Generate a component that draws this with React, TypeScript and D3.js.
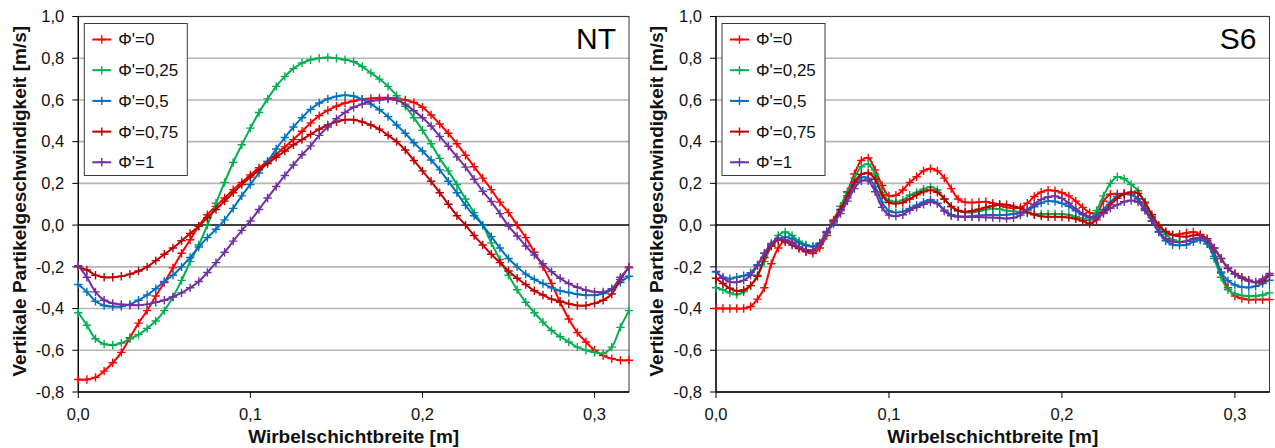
import React from 'react';
import * as d3 from 'd3';

// ---------- data ----------
const legendLabels = ["Φ'=0", "Φ'=0,25", "Φ'=0,5", "Φ'=0,75", "Φ'=1"];
const seriesColors = ['#FF0000', '#00B050', '#0070C0', '#C00000', '#7030A0'];
const yTicks = [-0.8, -0.6, -0.4, -0.2, 0, 0.2, 0.4, 0.6, 0.8, 1.0];
const xTicks = [0, 0.1, 0.2, 0.3];
const xTitle = 'Wirbelschichtbreite [m]';
const yTitle = 'Vertikale Partikelgeschwindigkeit [m/s]';

// NT panel, x step 0.005 m (0 ... 0.32)
const ntStep = 0.005;
const ntPhi0 = [
  -0.74, -0.74, -0.73, -0.70, -0.66, -0.61, -0.54, -0.47, -0.41, -0.34,
  -0.275, -0.205, -0.135, -0.07, -0.005, 0.05, 0.09, 0.13, 0.17, 0.205,
  0.24, 0.275, 0.305, 0.34, 0.375, 0.41, 0.45, 0.49, 0.525, 0.55,
  0.57, 0.585, 0.595, 0.603, 0.607, 0.61, 0.61, 0.608, 0.60, 0.588,
  0.565, 0.528, 0.485, 0.44, 0.39, 0.335, 0.28, 0.225, 0.17, 0.11,
  0.06, 0.0, -0.06, -0.13, -0.2, -0.28, -0.37, -0.45, -0.515, -0.56,
  -0.60, -0.625, -0.64, -0.648, -0.648,
];
const ntPhi025 = [
  -0.42, -0.48, -0.545, -0.57, -0.575, -0.565, -0.545, -0.525, -0.495, -0.46,
  -0.41, -0.345, -0.265, -0.175, -0.095, 0.0, 0.105, 0.205, 0.30, 0.385,
  0.465, 0.54, 0.605, 0.665, 0.713, 0.75, 0.777, 0.793, 0.80, 0.804,
  0.80, 0.793, 0.783, 0.76, 0.73, 0.70, 0.665, 0.62, 0.57, 0.515,
  0.455, 0.39, 0.32, 0.26, 0.195, 0.125, 0.06, 0.0, -0.085, -0.165,
  -0.24, -0.31, -0.37, -0.42, -0.465, -0.505, -0.535, -0.56, -0.585, -0.60,
  -0.61, -0.615, -0.585, -0.49, -0.41,
];
const ntPhi05 = [
  -0.285, -0.32, -0.365, -0.385, -0.39, -0.39, -0.38, -0.36, -0.335, -0.305,
  -0.27, -0.24, -0.20, -0.155, -0.105, -0.06, -0.02, 0.025, 0.08, 0.14,
  0.195, 0.25, 0.305, 0.365, 0.42, 0.47, 0.515, 0.555, 0.585, 0.605,
  0.617, 0.622, 0.618, 0.603, 0.58, 0.553, 0.52, 0.48, 0.44, 0.395,
  0.355, 0.312, 0.265, 0.21, 0.155, 0.095, 0.045, 0.0, -0.055, -0.11,
  -0.16, -0.20, -0.235, -0.26, -0.28, -0.30, -0.315, -0.323, -0.331, -0.336,
  -0.336, -0.328, -0.31, -0.275, -0.245,
];
const ntPhi075 = [
  -0.20, -0.215, -0.24, -0.25, -0.25, -0.245, -0.235, -0.22, -0.20, -0.17,
  -0.14, -0.11, -0.075, -0.04, -0.005, 0.035, 0.075, 0.115, 0.155, 0.195,
  0.23, 0.265, 0.295, 0.325, 0.355, 0.385, 0.41, 0.435, 0.46, 0.48,
  0.495, 0.505, 0.505, 0.495, 0.48, 0.46, 0.43, 0.40, 0.36, 0.31,
  0.26, 0.21, 0.155, 0.10, 0.045, 0.0, -0.05, -0.095, -0.14, -0.18,
  -0.22, -0.255, -0.285, -0.315, -0.335, -0.355, -0.365, -0.377, -0.385, -0.385,
  -0.375, -0.36, -0.33, -0.26, -0.20,
];
const ntPhi1 = [
  -0.195, -0.25, -0.32, -0.36, -0.375, -0.38, -0.384, -0.384, -0.38, -0.37,
  -0.36, -0.344, -0.325, -0.30, -0.27, -0.227, -0.18, -0.13, -0.077, -0.025,
  0.02, 0.075, 0.13, 0.185, 0.238, 0.288, 0.337, 0.38, 0.43, 0.47,
  0.51, 0.54, 0.565, 0.58, 0.595, 0.60, 0.604, 0.598, 0.58, 0.548,
  0.515, 0.475, 0.425, 0.378, 0.327, 0.278, 0.22, 0.162, 0.113, 0.055,
  -0.005, -0.052, -0.10, -0.143, -0.185, -0.223, -0.255, -0.28, -0.298, -0.312,
  -0.32, -0.32, -0.305, -0.25, -0.205,
];

// S6 panel, x step 0.004 m (0 ... 0.32)
const s6Step = 0.004;
const s6Phi0 = [
  -0.40, -0.40, -0.40, -0.40, -0.40, -0.39, -0.355, -0.30, -0.185, -0.11,
  -0.073, -0.082, -0.105, -0.128, -0.135, -0.11, -0.05, 0.025, 0.09, 0.16,
  0.245, 0.31, 0.322, 0.265, 0.19, 0.14, 0.143, 0.168, 0.205, 0.232,
  0.26, 0.271, 0.26, 0.225, 0.175, 0.125, 0.11, 0.108, 0.11, 0.112,
  0.105, 0.095, 0.085, 0.08, 0.085, 0.105, 0.137, 0.158, 0.167, 0.165,
  0.155, 0.14, 0.115, 0.085, 0.06, 0.055, 0.115, 0.148, 0.15, 0.15,
  0.148, 0.127, 0.08, 0.035, -0.01, -0.035, -0.047, -0.043, -0.038, -0.033,
  -0.045, -0.075, -0.13, -0.23, -0.30, -0.34, -0.352, -0.357, -0.357, -0.357,
  -0.357,
];
const s6Phi025 = [
  -0.30, -0.31, -0.325, -0.333, -0.32, -0.29, -0.24, -0.175, -0.10, -0.05,
  -0.033, -0.05, -0.077, -0.095, -0.103, -0.09, -0.04, 0.02, 0.09, 0.155,
  0.225, 0.28, 0.292, 0.245, 0.155, 0.118, 0.112, 0.12, 0.143, 0.157,
  0.172, 0.183, 0.168, 0.125, 0.088, 0.068, 0.062, 0.06, 0.066, 0.075,
  0.08, 0.076, 0.07, 0.066, 0.063, 0.058, 0.054, 0.053, 0.053, 0.053,
  0.052, 0.049, 0.04, 0.032, 0.024, 0.07, 0.14, 0.2, 0.232, 0.222,
  0.195, 0.165, 0.105, 0.04, -0.01, -0.045, -0.07, -0.08, -0.077, -0.066,
  -0.064, -0.09, -0.16, -0.25, -0.31, -0.33, -0.337, -0.341, -0.34, -0.335,
  -0.325,
];
const s6Phi05 = [
  -0.225, -0.25, -0.257, -0.25, -0.243, -0.228, -0.19, -0.135, -0.092, -0.068,
  -0.057, -0.066, -0.085, -0.098, -0.102, -0.085, -0.03, 0.005, 0.07, 0.13,
  0.195, 0.228, 0.225, 0.185, 0.11, 0.068, 0.06, 0.065, 0.08, 0.095,
  0.11, 0.122, 0.105, 0.072, 0.05, 0.041, 0.04, 0.043, 0.046, 0.048,
  0.048, 0.048, 0.05, 0.053, 0.06, 0.072, 0.088, 0.106, 0.115, 0.113,
  0.104, 0.09, 0.069, 0.05, 0.035, 0.045, 0.075, 0.11, 0.138, 0.15,
  0.145, 0.125, 0.075, 0.02, -0.035, -0.075, -0.094, -0.097, -0.094, -0.08,
  -0.072, -0.09, -0.15, -0.225, -0.267, -0.287, -0.297, -0.299, -0.293, -0.28,
  -0.264,
];
const s6Phi075 = [
  -0.255, -0.28, -0.303, -0.316, -0.311, -0.29, -0.245, -0.155, -0.10, -0.072,
  -0.08, -0.096, -0.112, -0.124, -0.122, -0.09, -0.035, 0.02, 0.075, 0.14,
  0.205, 0.243, 0.25, 0.22, 0.145, 0.108, 0.103, 0.108, 0.125, 0.145,
  0.16, 0.167, 0.157, 0.125, 0.09, 0.07, 0.064, 0.068, 0.076, 0.085,
  0.092, 0.1, 0.098, 0.09, 0.08, 0.062, 0.05, 0.043, 0.04, 0.04,
  0.039, 0.036, 0.03, 0.02, 0.008, 0.025, 0.06, 0.097, 0.128, 0.15,
  0.158, 0.152, 0.11, 0.05, 0.0, -0.03, -0.046, -0.054, -0.055, -0.049,
  -0.048, -0.065, -0.11, -0.16, -0.208, -0.232, -0.25, -0.264, -0.275, -0.268,
  -0.24,
];
const s6Phi1 = [
  -0.222, -0.255, -0.272, -0.274, -0.265, -0.24, -0.195, -0.135, -0.088, -0.064,
  -0.072, -0.088, -0.104, -0.118, -0.12, -0.09, -0.035, 0.015, 0.055, 0.115,
  0.175, 0.212, 0.212, 0.16, 0.085, 0.048, 0.043, 0.05, 0.071, 0.085,
  0.1, 0.111, 0.103, 0.068, 0.045, 0.041, 0.04, 0.04, 0.038, 0.037,
  0.036, 0.034, 0.032, 0.035, 0.048, 0.075, 0.1, 0.123, 0.135, 0.138,
  0.128, 0.105, 0.078, 0.055, 0.04, 0.035, 0.055, 0.08, 0.097, 0.112,
  0.118, 0.11, 0.07, 0.02, -0.03, -0.065, -0.08, -0.082, -0.078, -0.066,
  -0.06, -0.072, -0.11, -0.16, -0.205, -0.235, -0.255, -0.268, -0.272, -0.258,
  -0.232,
];

const ntSeries = [ntPhi0, ntPhi025, ntPhi05, ntPhi075, ntPhi1];
const s6Series = [s6Phi0, s6Phi025, s6Phi05, s6Phi075, s6Phi1];

// ---------- drawing ----------
const FONT = '"Liberation Sans", Arial, Helvetica, sans-serif';

const fmt = (v: number) => {
  const s = Math.abs(v).toFixed(1).replace('.', ',');
  return v < -1e-9 ? '-' + s : s;
};

type PanelProps = {
  left: number;
  right: number;
  top: number;
  bottom: number;
  step: number;
  series: number[][];
  label: string;
  titleX: number;
};

function Panel({ left, right, top, bottom, step, series, label, titleX }: PanelProps) {
  const x = d3.scaleLinear().domain([0, 0.32]).range([left, right]);
  const y = d3.scaleLinear().domain([-0.8, 1.0]).range([bottom, top]);
  const line = d3
    .line<number>()
    .x((_, i) => x(i * step))
    .y((d) => y(d))
    .curve(d3.curveCatmullRom.alpha(0.5));
  const m = 4.2;
  const legendX = left + 6;
  const legendY = top + 7;
  return (
    <g>
      {/* gridlines */}
      {yTicks
        .filter((t) => t > -0.8 && Math.abs(t) > 1e-9)
        .map((t) => (
          <line key={'g' + t} x1={left} x2={right} y1={y(t)} y2={y(t)} stroke="#B5B5B5" strokeWidth={1.6} />
        ))}
      {/* plot border */}
      <rect x={left} y={top} width={right - left} height={bottom - top} fill="none" stroke="#3A3A3A" strokeWidth={1} />
      {/* zero line */}
      <line x1={left} x2={right} y1={y(0)} y2={y(0)} stroke="#000" strokeWidth={1.5} />
      {/* axes */}
      <line x1={left} x2={left} y1={top} y2={bottom} stroke="#000" strokeWidth={1.3} />
      <line x1={left} x2={right} y1={bottom} y2={bottom} stroke="#000" strokeWidth={1.3} />
      {yTicks.map((t) => (
        <g key={'yt' + t}>
          <line x1={left - 6} x2={left} y1={y(t)} y2={y(t)} stroke="#000" strokeWidth={1} />
          <text x={left - 14} y={y(t)} dy="0.35em" textAnchor="end" fontSize={16.5} fontFamily={FONT} fill="#111">
            {fmt(t)}
          </text>
        </g>
      ))}
      {xTicks.map((t) => (
        <g key={'xt' + t}>
          <line x1={x(t)} x2={x(t)} y1={bottom} y2={bottom + 6} stroke="#000" strokeWidth={1} />
          <text x={x(t)} y={bottom + 28} textAnchor="middle" fontSize={16.5} fontFamily={FONT} fill="#111">
            {fmt(t)}
          </text>
        </g>
      ))}
      {/* titles */}
      <text x={(left + right) / 2} y={443} textAnchor="middle" fontSize={19} fontWeight="bold" fontFamily={FONT} fill="#111">
        {xTitle}
      </text>
      <text
        transform={`translate(${titleX},${(top + bottom) / 2 - 3}) rotate(-90)`}
        textAnchor="middle"
        dy="0.35em"
        fontSize={19}
        fontWeight="bold"
        fontFamily={FONT}
        fill="#111"
      >
        {yTitle}
      </text>
      {/* series */}
      {series.map((s, k) => (
        <g key={'s' + k}>
          <path d={line(s) || ''} fill="none" stroke={seriesColors[k]} strokeWidth={2} />
          <path
            d={s.map((v, i) => `M${x(i * step) - m},${y(v)}h${2 * m}M${x(i * step)},${y(v) - m}v${2 * m}`).join('')}
            fill="none"
            stroke={seriesColors[k]}
            strokeWidth={1.4}
          />
        </g>
      ))}
      {/* legend */}
      <rect x={legendX} y={legendY} width={103} height={152} fill="#fff" stroke="#3A3A3A" strokeWidth={1} />
      {legendLabels.map((lab, k) => {
        const cy = legendY + 16 + k * 30.7;
        const lx0 = legendX + 8;
        const lx1 = legendX + 27;
        const mx = (lx0 + lx1) / 2;
        return (
          <g key={'l' + k}>
            <line x1={lx0} x2={lx1} y1={cy} y2={cy} stroke={seriesColors[k]} strokeWidth={2} />
            <path d={`M${mx - m},${cy}h${2 * m}M${mx},${cy - m}v${2 * m}`} stroke={seriesColors[k]} strokeWidth={1.4} />
            <text x={legendX + 34} y={cy} dy="0.35em" fontSize={17} fontFamily={FONT} fill="#111">
              {lab}
            </text>
          </g>
        );
      })}
      {/* panel label */}
      <text x={right - 13} y={top + 32} textAnchor="end" fontSize={30} fontFamily={FONT} fill="#000">
        {label}
      </text>
    </g>
  );
}

export default function App() {
  return (
    <svg
      width={1275}
      height={448}
      style={{ position: 'absolute', left: 0, top: 0, background: '#fff' }}
      xmlns="http://www.w3.org/2000/svg"
    >
      <rect x={0} y={0} width={1275} height={448} fill="#fff" />
      <Panel left={78.3} right={629} top={16.5} bottom={392} step={ntStep} series={ntSeries} label="NT" titleX={19} />
      <Panel left={716} right={1269.5} top={16.5} bottom={392} step={s6Step} series={s6Series} label="S6" titleX={656} />
    </svg>
  );
}
